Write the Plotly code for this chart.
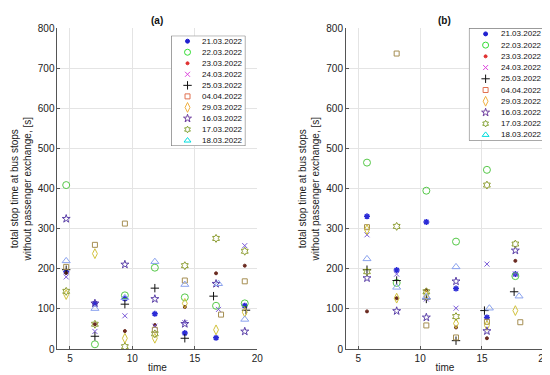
import plotly.graph_objects as go

# ---------------- data ----------------
series_labels = ["21.03.2022", "22.03.2022", "23.03.2022", "24.03.2022", "25.03.2022",
                 "04.04.2022", "29.03.2022", "16.03.2022", "17.03.2022", "18.03.2022"]

# panel (a) stop times
time_a = [4.7, 7.0, 9.4, 11.8, 14.2, 16.7, 19.0]
time_a_2403 = [4.7, 7.0, 9.4, 11.8, 14.2, 16.9, 19.0]
time_a_2503 = [4.7, 7.0, 9.4, 11.8, 14.2, 16.5, 19.1]
time_a_0404 = [4.7, 7.0, 9.4, 11.8, 14.2, 17.1, 19.0]
time_a_1803 = [4.7, 7.0, 9.4, 11.8, 14.2, 16.9, 19.0]

a_2103 = [193, 114, 126, 88, 40, 28, 108]
a_2203 = [409, 12, 134, 203, 129, 108, 114]
a_2303 = [190, 62, 45, 60, 105, 189, 208]
a_2403 = [180, 44, 83, 57, 66, 99, 258]
a_2503 = [198, 32, 112, 152, 27, 132, 97]
a_0404 = [205, 260, 313, 48, 171, 86, 169]
a_2903 = [136, 238, 27, 27, 114, 48, 92]
a_1603 = [325, 114, 211, 125, 63, 163, 44]
a_1703 = [144, 62, 6, 38, 208, 276, 244]
a_1803 = [220, 101, 128, 218, 161, 163, 74]

# panel (b) stop times
time_b = [5.7, 8.1, 10.5, 12.9, 15.4, 17.7]
time_b_2503 = [5.7, 8.1, 10.5, 12.9, 15.2, 17.6]
time_b_0404 = [5.7, 8.1, 10.5, 12.9, 15.4, 18.1]
time_b_1803 = [5.7, 8.1, 10.5, 12.9, 15.6, 18.0]

b_2103 = [331, 197, 317, 151, 79, 187]
b_2203 = [465, 165, 395, 268, 447, 182]
b_2303 = [94, 127, 147, 54, 27, 220]
b_2403 = [285, 187, 125, 102, 212, 187]
b_2503 = [198, 171, 125, 21, 96, 143]
b_0404 = [304, 737, 59, 29, 68, 67]
b_2903 = [298, 127, 135, 64, 59, 96]
b_1603 = [177, 95, 79, 169, 45, 246]
b_1703 = [193, 306, 143, 81, 409, 262]
b_1803 = [225, 154, 130, 205, 102, 132]

y_ticks = [0, 100, 200, 300, 400, 500, 600, 700, 800]
x_ticks = [5, 10, 15, 20]

# ---------------- styles ----------------
point_colors = ["#2b2bd6", "#55c848", "#6a2a20", "#7a5ad8", "#111111",
                "#a58e52", "#d2c23c", "#5b40a8", "#8c9c30", "#8aa2ee"]
legend_colors = ["#1f1fd0", "#33dd33", "#e03030", "#dd44dd", "#111111",
                 "#e07050", "#f0b040", "#7040a0", "#80a030", "#00dddd"]
data_symbols = ["asterisk-open", "circle-open", "circle", "x-thin-open", "cross-thin-open",
                "square-open", "diamond-tall-open", "star-open", "hexagram-open", "triangle-up-open"]
legend_symbols = ["circle", "circle-open", "circle", "x-thin-open", "cross-thin-open",
                  "square-open", "diamond-tall-open", "star-open", "hexagram-open", "triangle-up-open"]
sizes = [5, 7, 3, 5, 6, 5, 7, 6, 6, 7]
leg_sizes = [4, 6, 3, 5, 6, 5, 7, 6, 5, 6]

FONT = "Liberation Sans, Arial, Helvetica, sans-serif"

panel_a = [(time_a, a_2103), (time_a, a_2203), (time_a, a_2303), (time_a_2403, a_2403),
           (time_a_2503, a_2503), (time_a_0404, a_0404), (time_a, a_2903), (time_a, a_1603),
           (time_a, a_1703), (time_a_1803, a_1803)]
panel_b = [(time_b, b_2103), (time_b, b_2203), (time_b, b_2303), (time_b, b_2403),
           (time_b_2503, b_2503), (time_b_0404, b_0404), (time_b, b_2903), (time_b, b_1603),
           (time_b, b_1703), (time_b_1803, b_1803)]

fig = go.Figure()

for panel, xa, ya in [(panel_a, "x", "y"), (panel_b, "x2", "y2")]:
    for i, (tx, vy) in enumerate(panel):
        fig.add_trace(go.Scatter(
            x=tx, y=vy, mode="markers", name=series_labels[i], showlegend=False,
            xaxis=xa, yaxis=ya,
            marker=dict(symbol=data_symbols[i], size=sizes[i], color=point_colors[i],
                        line=dict(color=point_colors[i], width=1.5 if i == 0 else 1)),
        ))

# custom compact legends (one per panel)
annotations = []
shapes = []
for xa, ya in [("x3", "y3"), ("x4", "y4")]:
    for i, lab in enumerate(series_labels):
        fig.add_trace(go.Scatter(
            x=[0.22], y=[9.5 - i], mode="markers", showlegend=False, hoverinfo="skip",
            xaxis=xa, yaxis=ya,
            marker=dict(symbol=legend_symbols[i], size=leg_sizes[i], color=legend_colors[i],
                        line=dict(color=legend_colors[i], width=1)),
        ))
        annotations.append(dict(x=0.39, y=9.5 - i, xref=xa, yref=ya, text=lab,
                                showarrow=False, xanchor="left", yanchor="middle",
                                font=dict(size=8, color="#111", family=FONT)))
    shapes.append(dict(type="rect", xref=xa, yref=ya, x0=0, x1=1, y0=0, y1=10,
                       fillcolor="white", line=dict(color="#555", width=1), layer="below"))

# panel titles
annotations.append(dict(x=0.5, y=1.0, xref="x domain", yref="paper", text="<b>(a)</b>",
                        showarrow=False, yanchor="top", font=dict(size=10, color="#111", family=FONT)))
annotations.append(dict(x=0.5, y=1.0, xref="x2 domain", yref="paper", text="<b>(b)</b>",
                        showarrow=False, yanchor="top", font=dict(size=10, color="#111", family=FONT)))

ydom = [1 - 345.3 / 375, 1 - 15.7 / 375]
common_x = dict(range=[4, 20], tickvals=x_ticks, showgrid=True, gridcolor="#e4e4e4",
                showline=True, linecolor="#555", linewidth=1, mirror=False,
                ticks="inside", ticklen=3, tickcolor="#555", zeroline=False,
                tickfont=dict(size=10, color="#222", family=FONT),
                title=dict(text="time", font=dict(size=10, color="#222", family=FONT), standoff=0))
common_y = dict(range=[0, 800], tickvals=y_ticks, showgrid=True, gridcolor="#e4e4e4",
                showline=True, linecolor="#555", linewidth=1, mirror=False,
                ticks="inside", ticklen=3, tickcolor="#555", zeroline=False,
                tickfont=dict(size=10, color="#222", family=FONT),
                title=dict(text="total stop time at bus stops<br>without passenger exchange, [s]",
                           font=dict(size=10, color="#222", family=FONT), standoff=4))
hidden = dict(visible=False, showgrid=False, zeroline=False, fixedrange=True)

fig.update_layout(
    width=550, height=375,
    margin=dict(l=0, r=0, t=0, b=0),
    paper_bgcolor="white", plot_bgcolor="white",
    font=dict(family=FONT, size=10, color="#222"),
    xaxis=dict(domain=[50 / 550, 252 / 550], anchor="y", **common_x),
    yaxis=dict(domain=ydom, anchor="x", **common_y),
    xaxis2=dict(domain=[341.7 / 550, 541.7 / 550], anchor="y2", **common_x),
    yaxis2=dict(domain=ydom, anchor="x2", **common_y),
    xaxis3=dict(domain=[165 / 550, 240 / 550], anchor="y3", range=[0, 1], **hidden),
    yaxis3=dict(domain=[1 - 136.7 / 375, 1 - 23.3 / 375], anchor="x3", range=[0, 10], **hidden),
    xaxis4=dict(domain=[466 / 550, 542.7 / 550], anchor="y4", range=[0, 1], **hidden),
    yaxis4=dict(domain=[1 - 131 / 375, 1 - 15.7 / 375], anchor="x4", range=[0, 10], **hidden),
    annotations=annotations,
    shapes=shapes,
    showlegend=False,
)

fig.write_html("out.html")
